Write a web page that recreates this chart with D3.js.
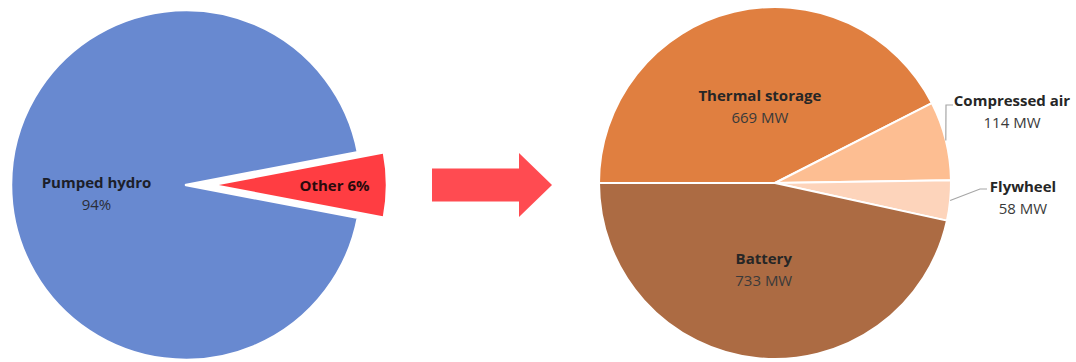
<!DOCTYPE html>
<html>
<head>
<meta charset="utf-8">
<script src="https://cdn.jsdelivr.net/npm/d3@7"></script>
<style>
  body { margin: 0; background: #fff; }
  svg text { font-family: "Open Sans", Lato, sans-serif; }
</style>
</head>
<body>
<svg id="chart" width="1076" height="362"></svg>
<script>
// Share of storage capacity: pumped hydro vs everything else (%)
const shareLabels = ["Other", "Pumped hydro"];
const shareValues = [6, 94];

// Breakdown of the "other" technologies (MW)
const techLabels = ["Thermal storage", "Compressed air", "Flywheel", "Battery"];
const techValues = [669, 114, 58, 733];
const techUnit = "MW";

const shareColors = { "Other": "#ff3d42", "Pumped hydro": "#6889d0" };
const techColors = {
  "Thermal storage": "#e07f40",
  "Compressed air": "#fdbe92",
  "Flywheel": "#fdd4bb",
  "Battery": "#ac6b43"
};

const svg = d3.select("#chart");

// ---------- left pie ----------
const L = { cx: 186, cy: 185, r: 175, explode: 26 };
const shareTotal = d3.sum(shareValues);
// centre the "Other" slice on 3 o'clock
const shareStart = Math.PI / 2 - Math.PI * shareValues[0] / shareTotal;
const sharePie = d3.pie().sort(null).value(d => d.value)
  .startAngle(shareStart).endAngle(shareStart + 2 * Math.PI);
const shareArcs = sharePie(shareLabels.map((k, i) => ({ key: k, value: shareValues[i] })));
const arcL = d3.arc().innerRadius(0).outerRadius(L.r);

const gL = svg.append("g").attr("transform", `translate(${L.cx},${L.cy})`);
shareArcs.forEach(a => {
  const mid = (a.startAngle + a.endAngle) / 2;
  const off = a.data.key === "Other" ? L.explode : 0;
  const ox = Math.sin(mid) * off, oy = -Math.cos(mid) * off;
  const g = gL.append("g").attr("transform", `translate(${ox},${oy})`);
  g.append("path")
    .attr("d", arcL(a))
    .attr("fill", shareColors[a.data.key])
    .attr("stroke", "#fff")
    .attr("stroke-width", 2.5)
    .attr("stroke-linejoin", "round");
  const pct = `${a.data.value}%`;
  if (a.data.key === "Other") {
    const [x, y] = d3.arc().innerRadius(0).outerRadius(L.r * 1.4).centroid(a);
    g.append("text").attr("x", x).attr("y", y)
      .attr("text-anchor", "middle").attr("dominant-baseline", "central")
      .attr("font-size", 15).attr("font-weight", 700).attr("fill", "#2a0a0c")
      .text(`${a.data.key} ${pct}`);
  } else {
    let [x, y] = arcL.centroid(a);
    x -= 2; y += 8;
    const t = g.append("text").attr("text-anchor", "middle").attr("font-size", 15);
    t.append("tspan").attr("x", x).attr("y", y - 11).attr("dominant-baseline", "central")
      .attr("font-weight", 700).attr("fill", "#1c1f2a").text(a.data.key);
    t.append("tspan").attr("x", x).attr("y", y + 11).attr("dominant-baseline", "central")
      .attr("fill", "#2a2d38").text(pct);
  }
});

// ---------- arrow ----------
const A = { x0: 432, x1: 519, tip: 552, cy: 185, shaft: 16.5, head: 32 };
svg.append("path")
  .attr("d", d3.line()([
    [A.x0, A.cy - A.shaft], [A.x1, A.cy - A.shaft], [A.x1, A.cy - A.head],
    [A.tip, A.cy], [A.x1, A.cy + A.head], [A.x1, A.cy + A.shaft],
    [A.x0, A.cy + A.shaft]
  ]) + "Z")
  .attr("fill", "#ff4b51");

// ---------- right pie ----------
const R = { cx: 775, cy: 183, r: 176 };
const techPie = d3.pie().sort(null).value(d => d.value)
  .startAngle(-Math.PI / 2).endAngle(1.5 * Math.PI);
const techArcs = techPie(techLabels.map((k, i) => ({ key: k, value: techValues[i] })));
const arcR = d3.arc().innerRadius(0).outerRadius(R.r);
const labelArcR = d3.arc().innerRadius(0).outerRadius(R.r * 0.98);

const gR = svg.append("g").attr("transform", `translate(${R.cx},${R.cy})`);
gR.selectAll("path.slice").data(techArcs).join("path")
  .attr("class", "slice")
  .attr("d", arcR)
  .attr("fill", d => techColors[d.data.key])
  .attr("stroke", "#fff")
  .attr("stroke-width", 2)
  .attr("stroke-linejoin", "round");

// outside labels with leader lines (offsets relative to pie centre)
const outside = {
  "Compressed air": { label: [237, -72], elbow: [171, -78], end: [178, -78] },
  "Flywheel": { label: [248, 14], elbow: [205, 6], end: [212, 6] }
};
// small nudges for the inside labels
const insideNudge = { "Thermal storage": [5, 7], "Battery": [-2, 0] };

techArcs.forEach(a => {
  const key = a.data.key;
  const valueText = `${a.data.value} ${techUnit}`;
  let x, y;
  if (outside[key]) {
    const o = outside[key];
    const mid = (a.startAngle + a.endAngle) / 2;
    const sx = Math.sin(mid) * R.r, sy = -Math.cos(mid) * R.r;
    gR.append("path")
      .attr("d", d3.line()([[sx, sy], o.elbow, o.end]))
      .attr("fill", "none").attr("stroke", "#a6a6a6").attr("stroke-width", 1.2);
    [x, y] = o.label;
  } else {
    [x, y] = labelArcR.centroid(a);
    const n = insideNudge[key] || [0, 0];
    x += n[0]; y += n[1];
  }
  const t = gR.append("text").attr("text-anchor", "middle").attr("font-size", 15);
  t.append("tspan").attr("x", x).attr("y", y - 11).attr("dominant-baseline", "central")
    .attr("font-weight", 700).attr("fill", "#262626").text(key);
  t.append("tspan").attr("x", x).attr("y", y + 11).attr("dominant-baseline", "central")
    .attr("fill", "#3a3a3a").text(valueText);
});
</script>
</body>
</html>
